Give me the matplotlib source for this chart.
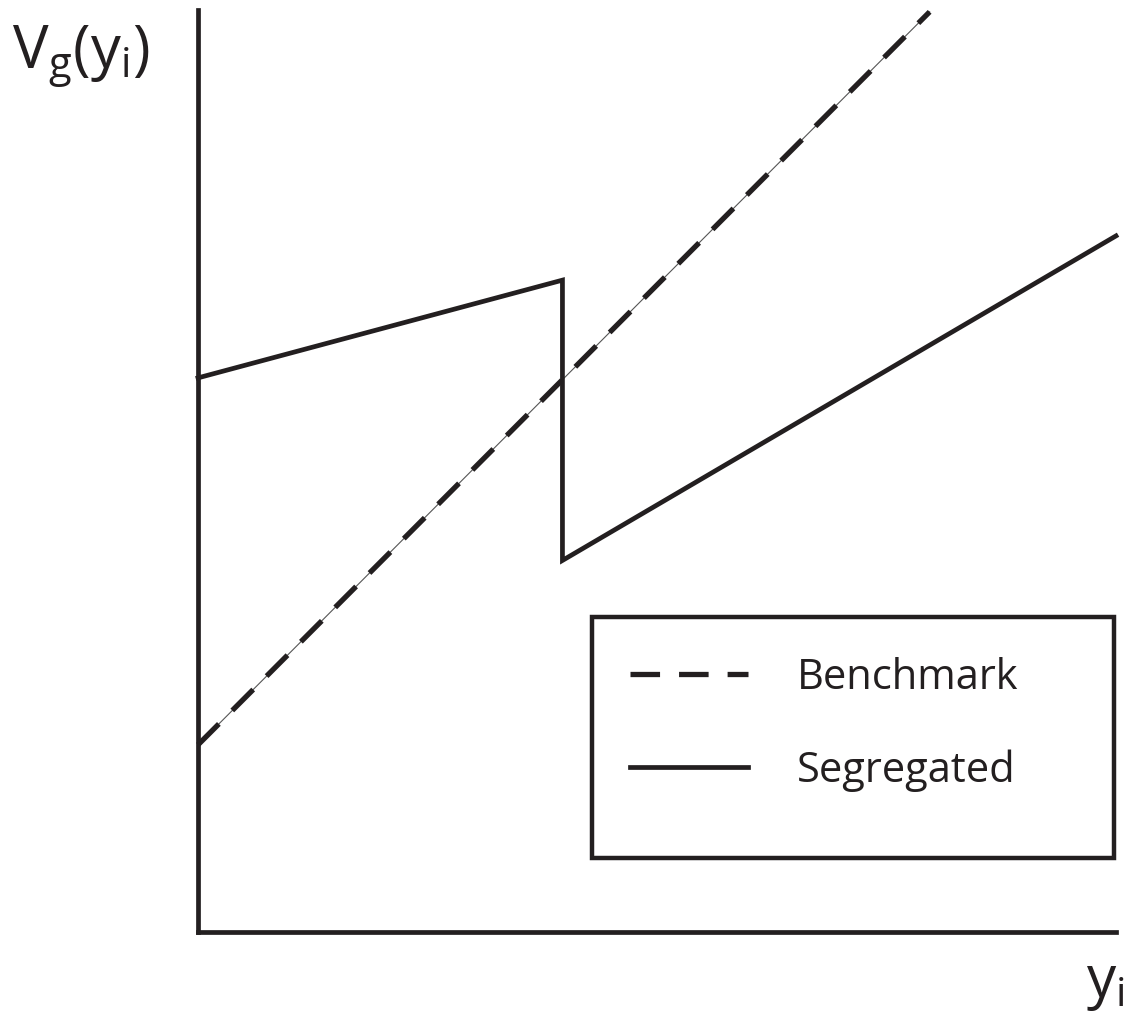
import matplotlib
matplotlib.use("Agg")
import matplotlib.pyplot as plt
from matplotlib.patches import Rectangle

plt.rcParams['font.family'] = ['Open Sans', 'DejaVu Sans']
plt.rcParams['mathtext.fontset'] = 'custom'
plt.rcParams['mathtext.rm'] = 'Open Sans'
plt.rcParams['mathtext.it'] = 'Open Sans'

# datos (unidades abstractas, eje 0-10)
x_bench = [0.0, 7.97]
y_bench = [2.03, 9.98]

x_seg = [0.0, 3.97, 3.97, 10.0]
y_seg = [6.01, 7.07, 4.03, 7.55]

etiquetas = ['Benchmark', 'Segregated']

NEGRO = '#231f20'
W, H = 1129, 1015
fig = plt.figure(figsize=(W / 100, H / 100), dpi=100)
ax = fig.add_axes([198 / W, (H - 932) / H, 918 / W, 922 / H])
ax.set_xlim(0, 10)
ax.set_ylim(0, 10)

# linea fina debajo de los guiones
ax.plot(x_bench, y_bench, color='#555555', lw=0.8, clip_on=False)
ax.plot(x_bench, y_bench, color=NEGRO, lw=3.8, dashes=(5.6, 3.6),
        dash_capstyle='butt', clip_on=False, label=etiquetas[0])
ax.plot(x_seg, y_seg, color=NEGRO, lw=3.4, solid_joinstyle='miter',
        clip_on=False, label=etiquetas[1])

for s in ['top', 'right']:
    ax.spines[s].set_visible(False)
for s in ['left', 'bottom']:
    ax.spines[s].set_linewidth(3.4)
    ax.spines[s].set_color(NEGRO)
ax.set_xticks([])
ax.set_yticks([])

# leyenda: caja aparte + entradas
fig.patches.append(Rectangle((592 / W, (H - 858) / H), 522 / W, 241 / H,
                             transform=fig.transFigure, fill=False,
                             edgecolor=NEGRO, lw=3.2))
ax.legend(loc='upper left', bbox_to_anchor=(630 / W, (H - 657) / H),
          bbox_transform=fig.transFigure, frameon=False, fontsize=30,
          handlelength=2.83, handletextpad=1.17, borderpad=0,
          borderaxespad=0, labelspacing=1.2, labelcolor=NEGRO)

fig.text(12 / W, (H - 68) / H, r'$\mathrm{V_g(y_i)}$', fontsize=43,
         color=NEGRO, ha='left', va='baseline')
fig.text(1086 / W, (H - 997) / H, r'$\mathrm{y_i}$', fontsize=42,
         color=NEGRO, ha='left', va='baseline')

fig.savefig('out.png', dpi=100)
